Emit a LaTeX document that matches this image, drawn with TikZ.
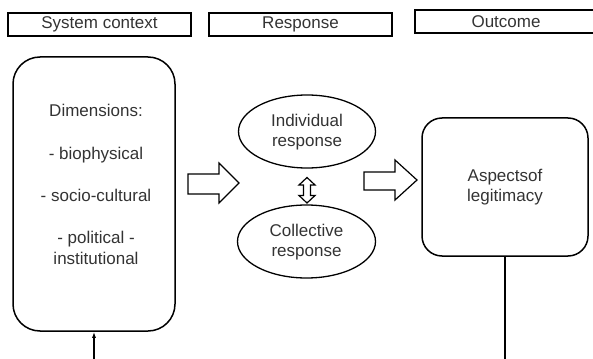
\documentclass[tikz,border=0pt]{standalone}
\usepackage{fontspec}
\setmainfont{Liberation Sans}
\usetikzlibrary{arrows.meta,shapes.geometric}
\begin{document}
\begin{tikzpicture}[x=1pt,y=-1pt,
  txt/.style={text=black!80, font=\fontsize{17pt}{20pt}\selectfont, align=center, inner sep=0pt},
  header/.style={draw, line width=1.8pt, minimum height=23pt, inner sep=0pt, text=black!80, font=\fontsize{17pt}{20pt}\selectfont},
  rbox/.style={draw, line width=1.5pt, inner sep=0pt},
  oval/.style={draw, ellipse, line width=1.3pt, inner sep=0pt},
  blockarrow/.style={draw, line width=1.2pt, fill=white, line join=miter},
  conn/.style={line width=1.4pt}
]
\useasboundingbox (0,0) rectangle (593,358);
\clip (0,0) rectangle (593,358);

% header boxes
\node[header, minimum width=183pt] (hsys) at (99.5,24.5) {System context};
\node[header, minimum width=183pt] (hres) at (300.5,24.5) {Response};
\node[header, minimum width=182pt] (hout) at (506,21.5) {Outcome};

% system context box
\node[rbox, rounded corners=27pt, minimum width=162pt, minimum height=274pt] (ctx) at (94,194) {};
\node[txt, font=\fontsize{17pt}{21pt}\selectfont] (ctxtext) at (96,184)
  {Dimensions:\\[22pt] - biophysical\\[21pt] - socio-cultural\\[21pt] - political -\\institutional};

% responses
\node[oval, minimum width=137pt, minimum height=73pt] (indiv) at (307,131.5) {};
\node[txt] (indivtext) at (307,132) {Individual\\response};
\node[oval, minimum width=138pt, minimum height=73pt] (coll) at (306.5,241.5) {};
\node[txt] (colltext) at (306.5,242) {Collective\\response};

% outcome box
\node[rbox, rounded corners=20pt, minimum width=166pt, minimum height=138pt] (out) at (505,187) {};
\node[txt] (outtext) at (505,187) {Aspectsof\\legitimacy};

% hollow block arrows
\draw[blockarrow] (188,174) -- (219,174) -- (219,163) -- (239,183) -- (219,203) -- (219,194) -- (188,194) -- cycle;
\draw[blockarrow] (364,172) -- (395,172) -- (395,160) -- (417,180) -- (395,200) -- (395,190) -- (364,190) -- cycle;
% double block arrow between responses
\draw[blockarrow] (307,177.5) -- (315,185) -- (310.5,185) -- (310.5,195.5) -- (315,195.5) -- (307,203) -- (299,195.5) -- (303.5,195.5) -- (303.5,185) -- (299,185) -- cycle;

% connectors
\coordinate (inL) at (94,360);
\coordinate (outR) at (505,360);
\draw[conn, -{Latex[length=6pt,width=4pt]}] (inL) -- (ctx.south);
\draw[conn] (out.south) -- (outR);
\end{tikzpicture}
\end{document}
